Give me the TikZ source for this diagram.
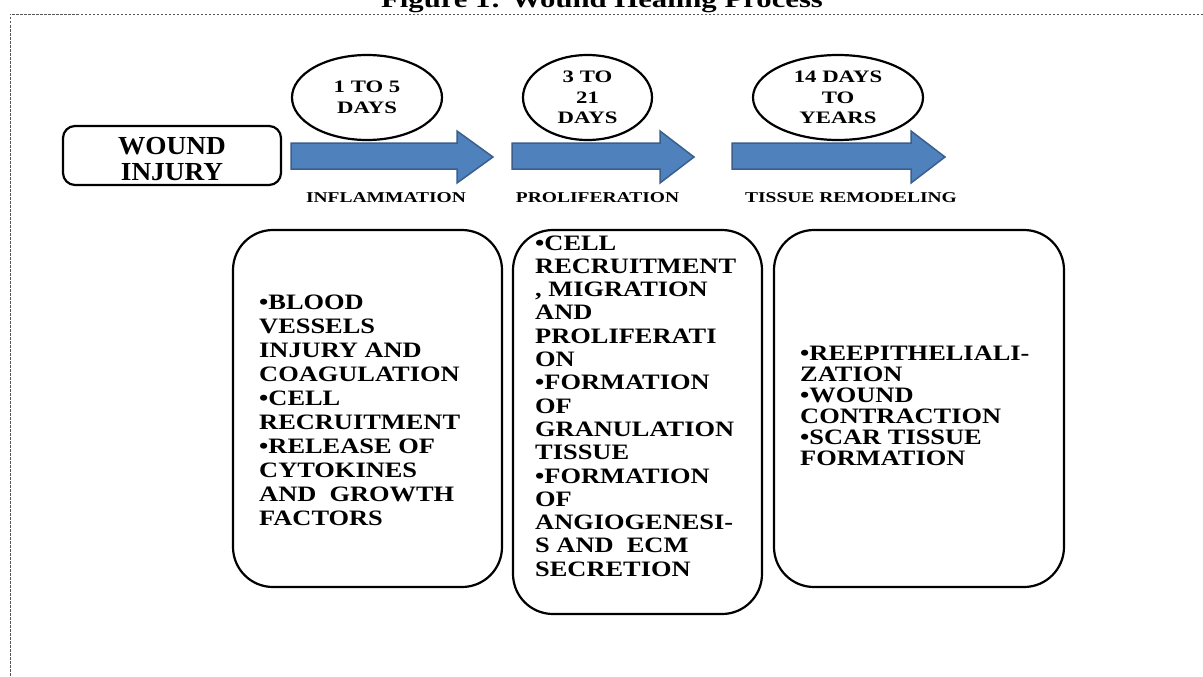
\documentclass[tikz,border=0pt]{standalone}
\usepackage{fontspec}
\setmainfont{Liberation Serif}
\newfontfamily\fbody[FakeStretch=1.2]{Liberation Serif}
\newfontfamily\flab[FakeStretch=1.3]{Liberation Serif}
\newfontfamily\fwnd[FakeStretch=1.05]{Liberation Serif}
\newfontfamily\ftitle[FakeStretch=1.28]{Liberation Serif}
\usetikzlibrary{shapes.geometric}
\definecolor{arrfill}{HTML}{4F81BD}
\definecolor{arrline}{HTML}{3A5F8C}
\definecolor{framecol}{HTML}{555555}
\begin{document}
\begin{tikzpicture}[x=1pt,y=-1pt,
  box/.style={draw=black, line width=2.2pt, rounded corners=40pt, inner sep=0pt},
  ell/.style={draw=black, line width=2.2pt, ellipse, inner sep=0pt, align=center,
    font=\flab\bfseries\fontsize{17.5}{20.5}\selectfont},
  lab/.style={inner sep=0pt, font=\flab\bfseries\fontsize{15}{18}\selectfont},
  body/.style={inner sep=0pt, align=left, anchor=west},
  blockarrow/.style={fill=arrfill, draw=arrline, line width=1.5pt, line join=miter}
]
\useasboundingbox (0,0) rectangle (1203,677);
\fill[white] (0,0) rectangle (1203,677);

% title (cut off at the top)
\node[anchor=base, inner sep=0pt, font=\ftitle\bfseries\fontsize{24}{28}\selectfont] (title) at (602,8) {Figure 1: Wound Healing Process};

% dashed frame
\coordinate (fr1) at (1203,14);
\coordinate (fr2) at (10,14);
\coordinate (fr3) at (10,677);
\draw[framecol, line width=0.8pt, dash pattern=on 2.5pt off 1.5pt] (fr1) -- (fr2) -- (fr3);

% wound injury box
\node[draw=black, line width=2.2pt, rounded corners=12pt, minimum width=218pt, minimum height=59pt, inner sep=0pt] (wound) at (172,155.5) {};
\node[inner sep=0pt, align=center, font=\fwnd\bfseries\fontsize{26}{26}\selectfont] (woundt) at (172,159) {WOUND\\INJURY};

% block arrows
\draw[blockarrow] (291,143) -- (457,143) -- (457,131) -- (493,157) -- (457,183) -- (457,169) -- (291,169) -- cycle;
\draw[blockarrow] (512,143) -- (660,143) -- (660,131) -- (694,157) -- (660,183) -- (660,169) -- (512,169) -- cycle;
\draw[blockarrow] (732,143) -- (911,143) -- (911,131) -- (945,157) -- (911,183) -- (911,169) -- (732,169) -- cycle;

% ellipses
\node[ell, minimum width=150pt, minimum height=85pt] (e1) at (367,97.5) {1 TO 5\\DAYS};
\node[ell, minimum width=129pt, minimum height=85pt] (e2) at (587.5,97.5) {3 TO\\21\\DAYS};
\node[ell, minimum width=170pt, minimum height=85pt] (e3) at (838,97.5) {14 DAYS\\TO\\YEARS};

% phase labels
\node[lab] (l1) at (386,198) {INFLAMMATION};
\node[lab] (l2) at (597.5,198) {PROLIFERATION};
\node[lab] (l3) at (851,198) {TISSUE REMODELING};

% detail boxes
\node[box, minimum width=269pt, minimum height=357pt] (b1) at (367.5,408.5) {};
\node[box, minimum width=249pt, minimum height=384pt] (b2) at (637.5,422) {};
\node[box, minimum width=290pt, minimum height=357pt] (b3) at (919,408.5) {};

\node[body, font=\fbody\bfseries\fontsize{22}{24}\selectfont] (t1) at (259,410) {%
•BLOOD\\VESSELS\\INJURY AND\\COAGULATION\\•CELL\\RECRUITMENT\\•RELEASE OF\\CYTOKINES\\AND\ \ GROWTH\\FACTORS};

\node[body, font=\fbody\bfseries\fontsize{22}{23.3}\selectfont] (t2) at (535,406) {%
•CELL\\RECRUITMENT\\, MIGRATION\\AND\\PROLIFERATI\\ON\\•FORMATION\\OF\\GRANULATION\\TISSUE\\•FORMATION\\OF\\ANGIOGENESI-\\S AND\ \ ECM\\SECRETION};

\node[body, font=\fbody\bfseries\fontsize{22}{21}\selectfont] (t3) at (800,405.5) {%
•REEPITHELIALI-\\ZATION\\•WOUND\\CONTRACTION\\•SCAR TISSUE\\FORMATION};
\end{tikzpicture}
\end{document}
